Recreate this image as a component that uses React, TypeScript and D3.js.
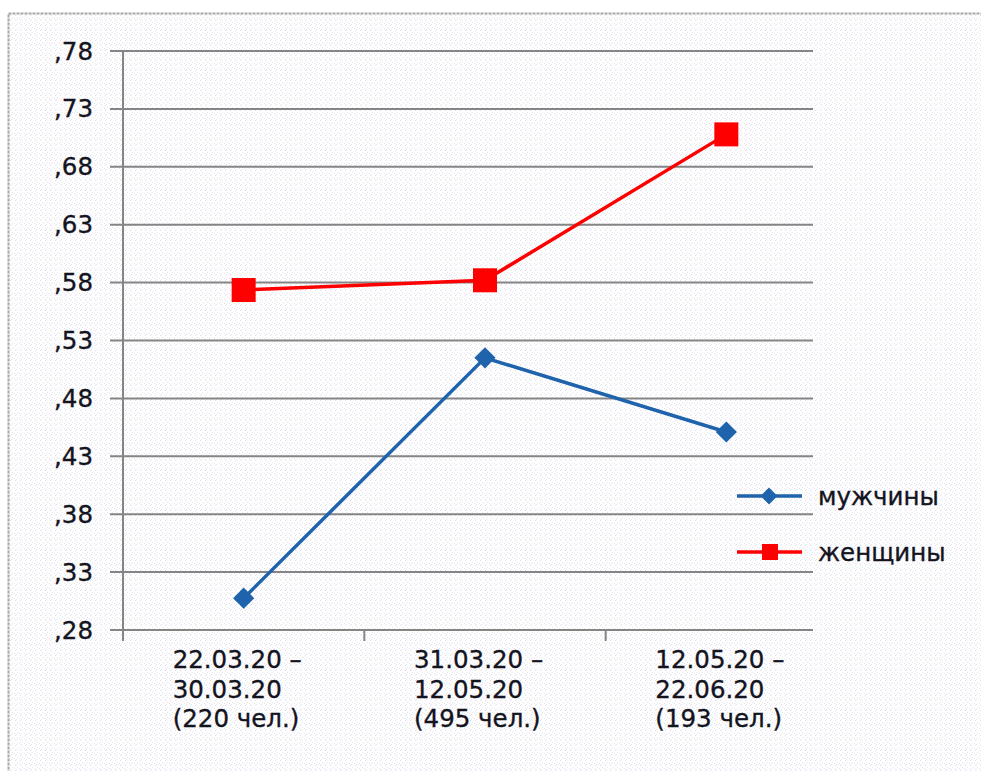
import React from "react";
import * as d3 from "d3";

const categories = [
  ["22.03.20 –", "30.03.20", "(220 чел.)"],
  ["31.03.20 –", "12.05.20", "(495 чел.)"],
  ["12.05.20 –", "22.06.20", "(193 чел.)"],
];
const men = [0.3075, 0.515, 0.451];
const women = [0.5736, 0.582, 0.708];
const yTicks = [0.28, 0.33, 0.38, 0.43, 0.48, 0.53, 0.58, 0.63, 0.68, 0.73, 0.78];
const seriesNames = ["мужчины", "женщины"];

const W = 981;
const H = 771;
const FONT = "'DejaVu Sans', Verdana, sans-serif";
const BLUE = "#1f63ad";
const RED = "#ff0000";
const GRID = "#858585";
const TEXT = "#14141f";

export default function App() {
  const keys = categories.map((_, i) => String(i));
  const x = d3.scaleBand<string>().domain(keys).range([123, 847]).paddingInner(0).paddingOuter(0);
  const y = d3.scaleLinear().domain([0.28, 0.78]).range([630, 51]);
  const plotRight = 813;
  const cx = (i: number) => (x(String(i)) as number) + x.bandwidth() / 2;

  const line = d3
    .line<number>()
    .x((_, i) => cx(i))
    .y((d) => y(d));

  const fmt = (v: number) => "," + d3.format(".2f")(v).split(".")[1];
  const textStyle = { stroke: TEXT, strokeWidth: 0.35 } as const;

  return (
    <svg
      width={W}
      height={H}
      style={{ position: "absolute", left: 0, top: 0, background: "#fff" }}
      fontFamily={FONT}
    >
      <defs>
        <pattern id="dots" width="5" height="5" patternUnits="userSpaceOnUse">
          <rect width="5" height="5" fill="#ffffff" />
          <rect x="0" y="0" width="1" height="1" fill="#e6dcf2" />
          <rect x="2" y="2" width="1" height="1" fill="#dcefe4" />
          <rect x="4" y="3" width="1" height="1" fill="#f2dcec" />
          <rect x="1" y="4" width="1" height="1" fill="#dce6f4" />
        </pattern>
      </defs>
      <rect x={0} y={0} width={W} height={H} fill="#fff" />
      <rect x={8.5} y={13.5} width={W + 20} height={H + 20} fill="url(#dots)" stroke="#a8a8a8" strokeWidth={2} strokeDasharray="3,1" />

      {/* gridlines */}
      {yTicks.map((t) => (
        <g key={t}>
          <line x1={110} x2={plotRight} y1={y(t)} y2={y(t)} stroke={GRID} strokeWidth={2} />
          <text x={93} y={y(t)} textAnchor="end" dominantBaseline="central" fontSize={24.5} fill={TEXT} {...textStyle}>
            {fmt(t)}
          </text>
        </g>
      ))}
      {/* y axis */}
      <line x1={123} x2={123} y1={y(0.78)} y2={640} stroke={GRID} strokeWidth={2} />
      {/* x ticks */}
      {keys.map((k) => (
        <line key={k} x1={x(k) as number} x2={x(k) as number} y1={630} y2={641} stroke={GRID} strokeWidth={2} />
      ))}

      {/* x labels */}
      {categories.map((lines, i) => (
        <text key={i} fontSize={24.5} fill={TEXT} {...textStyle}>
          {lines.map((l, j) => (
            <tspan key={j} x={cx(i) - 71} y={668 + j * 29.5}>
              {l}
            </tspan>
          ))}
        </text>
      ))}

      {/* series lines */}
      <path d={line(men) || ""} fill="none" stroke={BLUE} strokeWidth={3.5} />
      <path d={line(women) || ""} fill="none" stroke={RED} strokeWidth={3.5} />
      {men.map((v, i) => (
        <rect key={i} x={-7.5} y={-7.5} width={15} height={15} fill={BLUE}
          transform={`translate(${cx(i)},${y(v)}) rotate(45)`} />
      ))}
      {women.map((v, i) => (
        <rect key={i} x={cx(i) - 12} y={y(v) - 12} width={24} height={24} fill={RED} />
      ))}

      {/* legend */}
      <g>
        <line x1={737} x2={802} y1={496} y2={496} stroke={BLUE} strokeWidth={3.5} />
        <rect x={-6} y={-6} width={12} height={12} fill={BLUE} transform="translate(769,496) rotate(45)" />
        <text x={818} y={496} dominantBaseline="central" fontSize={24.5} fill={TEXT} {...textStyle}>{seriesNames[0]}</text>
        <line x1={737} x2={802} y1={552} y2={552} stroke={RED} strokeWidth={3.5} />
        <rect x={762} y={544} width={16} height={16} fill={RED} />
        <text x={818} y={552} dominantBaseline="central" fontSize={24.5} fill={TEXT} {...textStyle}>{seriesNames[1]}</text>
      </g>
    </svg>
  );
}
